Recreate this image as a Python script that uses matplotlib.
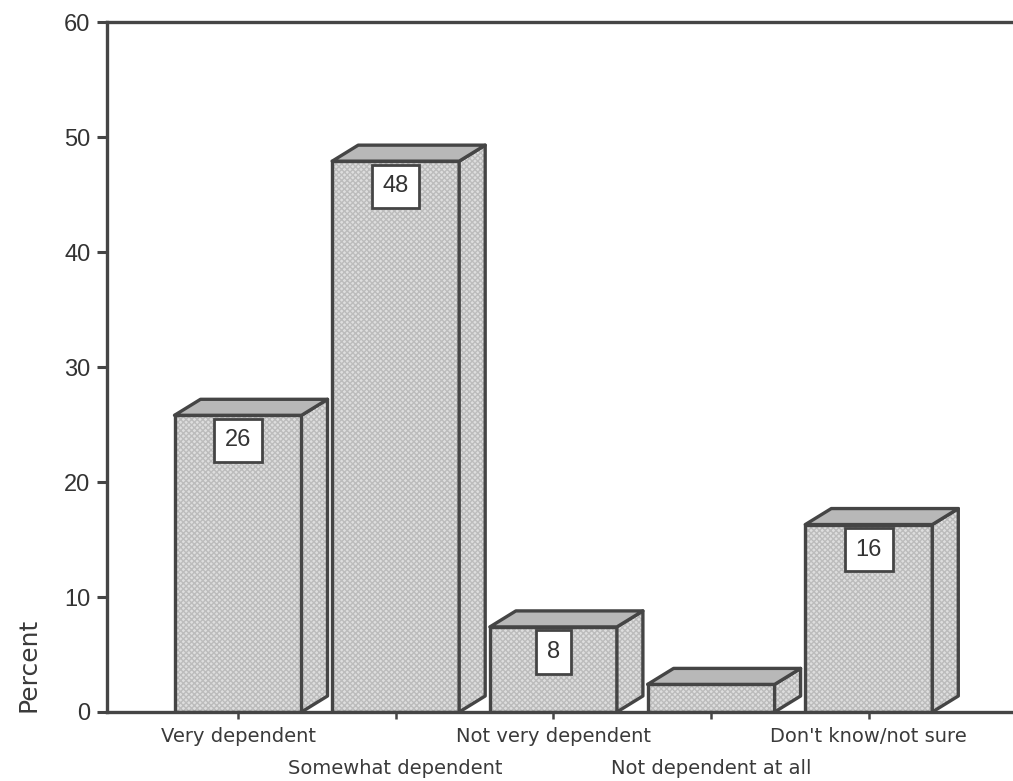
#!/usr/bin/env python3
import matplotlib
matplotlib.use("Agg")
import matplotlib.pyplot as plt

categories = ["Very dependent", "Somewhat dependent", "Not very dependent",
              "Not dependent at all", "Don't know/not sure"]
values = [25.8, 47.9, 7.4, 2.4, 16.3]
box_labels = ["26", "48", "8", "", "16"]
yticks = [0, 10, 20, 30, 40, 50, 60]

W, H = 1013, 781
LEFT, RIGHT, TOP, BOTTOM = 107, 1013, 22, 712
INK = "#454545"
HATCH = "#bcbcbc"

fig = plt.figure(figsize=(W / 100, H / 100), dpi=100)
ax = fig.add_axes([LEFT / W, 1 - BOTTOM / H, (RIGHT - LEFT) / W, (BOTTOM - TOP) / H])

x_step = 157.7  # px between categories
ax.set_xlim((LEFT - 238) / x_step, (RIGHT - 238) / x_step)
ax.set_ylim(0, 60)

# 3D offset of the boxes, px converted to data units
dx = 26 / x_step
dy = 16 / ((BOTTOM - TOP) / 60)
width = 127 / x_step

plt.rcParams["hatch.linewidth"] = 1.0
for i, v in enumerate(values):
    l, r = i - width / 2, i + width / 2
    # hatch takes the edge colour, so fill first and outline on a second pass
    ax.bar(i, v, width=width, color="#dedede", edgecolor=HATCH, linewidth=0,
           hatch="xxxxxx", zorder=2 + i)
    ax.bar(i, v, width=width, color="none", edgecolor=INK, linewidth=2.4, zorder=2 + i)
    ax.fill([r, r + dx, r + dx, r], [0, dy, v + dy, v], facecolor="#dedede", edgecolor=HATCH,
            linewidth=0, hatch="xxxxxx", zorder=2 + i)
    ax.fill([r, r + dx, r + dx, r], [0, dy, v + dy, v], facecolor="none", edgecolor=INK,
            linewidth=2.4, zorder=2 + i, joinstyle="round")
    ax.fill([l, l + dx, r + dx, r], [v, v + dy, v + dy, v], facecolor="#b8b8b8", edgecolor=INK,
            linewidth=2.4, zorder=2 + i, joinstyle="round")
    if box_labels[i]:
        ax.annotate(box_labels[i], (i, v), xytext=(0, -25 * 0.72), textcoords="offset points",
                    ha="center", va="center", fontsize=17, family="Liberation Sans", color="#333333",
                    bbox=dict(boxstyle="square,pad=0.45", fc="white", ec=INK, lw=2.0),
                    zorder=20)

for side in ("left", "bottom", "top"):
    ax.spines[side].set_linewidth(2.4)
    ax.spines[side].set_color(INK)
    ax.spines[side].set_zorder(30)
ax.spines["right"].set_visible(False)

ax.set_yticks(yticks)
ax.tick_params(axis="y", length=7, width=2.2, color=INK, pad=5, labelsize=17, labelcolor="#333333")
for lab in ax.get_yticklabels():
    lab.set_family("Liberation Sans")

ax.set_xticks(range(len(categories)))
ax.set_xticklabels(categories, fontsize=14, color="#3a3a3a", family="DejaVu Sans")
ax.tick_params(axis="x", length=5, width=1.8, color=INK)
for i, tick in enumerate(ax.xaxis.get_major_ticks()):
    tick.set_pad(6 if i % 2 == 0 else 29)

ax.set_ylabel("Percent", fontsize=18, color="#3a3a3a", loc="bottom", labelpad=17)

fig.savefig("out.png", dpi=100, facecolor="white")
